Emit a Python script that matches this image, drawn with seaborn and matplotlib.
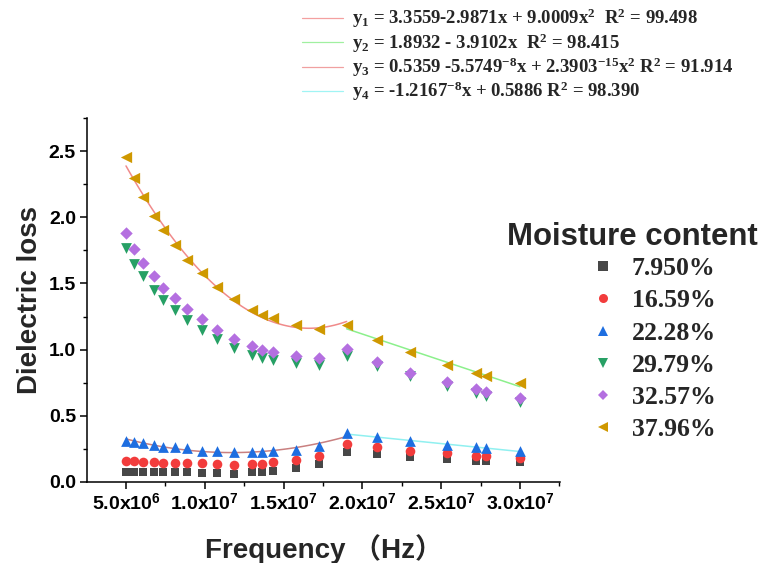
import numpy as np
import pandas as pd
import matplotlib
matplotlib.use("Agg")
import matplotlib.pyplot as plt
import seaborn as sns
from matplotlib.lines import Line2D
from matplotlib.ticker import MultipleLocator

# ---------------- data ----------------
freq = [5.0e6, 5.53e6, 6.1e6, 6.78e6, 7.37e6, 8.1e6, 8.9e6, 9.8e6, 10.75e6, 11.85e6,
        13.0e6, 13.6e6, 14.3e6, 15.77e6, 17.27e6, 19.0e6, 20.9e6, 23.0e6, 25.35e6,
        27.2e6, 27.85e6, 30.0e6]

mc_7950 = [0.073, 0.073, 0.073, 0.073, 0.073, 0.073, 0.073, 0.068, 0.068, 0.063,
           0.073, 0.073, 0.085, 0.103, 0.136, 0.229, 0.211, 0.191, 0.174, 0.161, 0.161, 0.149]
mc_1659 = [0.156, 0.156, 0.153, 0.149, 0.146, 0.141, 0.141, 0.141, 0.134, 0.128,
           0.134, 0.134, 0.149, 0.166, 0.199, 0.287, 0.262, 0.236, 0.217, 0.199, 0.199, 0.181]
mc_2228 = [0.312, 0.305, 0.295, 0.279, 0.267, 0.262, 0.254, 0.237, 0.232, 0.224,
           0.224, 0.224, 0.232, 0.244, 0.274, 0.370, 0.338, 0.307, 0.282, 0.262, 0.257, 0.236]
mc_2979 = [1.765, 1.646, 1.553, 1.452, 1.375, 1.301, 1.224, 1.150, 1.082, 1.012,
           0.959, 0.934, 0.924, 0.899, 0.886, 0.954, 0.874, 0.798, 0.723, 0.672, 0.652, 0.602]
mc_3257 = [1.881, 1.760, 1.654, 1.553, 1.465, 1.387, 1.307, 1.228, 1.150, 1.082,
           1.025, 0.999, 0.984, 0.954, 0.939, 1.002, 0.909, 0.826, 0.753, 0.702, 0.682, 0.634]
mc_3796 = [2.452, 2.294, 2.155, 2.011, 1.903, 1.790, 1.679, 1.576, 1.475, 1.380,
           1.299, 1.264, 1.236, 1.186, 1.158, 1.186, 1.075, 0.980, 0.886, 0.823, 0.803, 0.748]

series_labels = ["7.950%", "16.59%", "22.28%", "29.79%", "32.57%", "37.96%"]
series_values = [mc_7950, mc_1659, mc_2228, mc_2979, mc_3257, mc_3796]
series_colors = ["#474747", "#f23c3c", "#1e6ee0", "#27a065", "#b46fe0", "#cf9800"]
series_markers = ["s", "o", "^", "v", "D", "<"]
series_sizes = [40, 48, 60, 60, 40, 66]

fit_labels = [
    r"y$_1$ = 3.3559-2.9871x + 9.0009x$^2$  R$^2$ = 99.498",
    r"y$_2$ = 1.8932 - 3.9102x  R$^2$ = 98.415",
    r"y$_3$ = 0.5359 -5.5749$^{-8}$x + 2.3903$^{-15}$x$^2$ R$^2$ = 91.914",
    r"y$_4$ = -1.2167$^{-8}$x + 0.5886 R$^2$ = 98.390",
]
fit_colors = ["#f08a8a", "#8cf08c", "#c98080", "#90f0f0"]
legend_fit_colors = ["#f4a0a0", "#a0f0a0", "#f0a0a0", "#a0f4f4"]
split_index = 15  # index of 1.9e7 Hz where fits change

xticks = [5e6, 1e7, 1.5e7, 2e7, 2.5e7, 3e7]
xtick_labels = [r"5.0x10$^{\mathsf{6}}$", r"1.0x10$^{\mathsf{7}}$", r"1.5x10$^{\mathsf{7}}$",
                r"2.0x10$^{\mathsf{7}}$", r"2.5x10$^{\mathsf{7}}$", r"3.0x10$^{\mathsf{7}}$"]
yticks = [0.0, 0.5, 1.0, 1.5, 2.0, 2.5]

# ---------------- style ----------------
sns.set_theme(style="ticks")
plt.rcParams["font.family"] = ["Liberation Sans", "Noto Sans CJK SC", "DejaVu Sans"]
plt.rcParams["mathtext.fontset"] = "custom"
plt.rcParams["mathtext.rm"] = "Liberation Serif:bold"
plt.rcParams["mathtext.it"] = "Liberation Serif:bold"
plt.rcParams["mathtext.bf"] = "Liberation Serif:bold"
plt.rcParams["mathtext.sf"] = "Liberation Sans:bold"

fig = plt.figure(figsize=(7.61, 5.63), dpi=100)
ax = fig.add_axes([87 / 761, 1 - 482 / 563, (560 - 87) / 761, (482 - 118) / 563])

rows = []
for lab, vals in zip(series_labels, series_values):
    for f, v in zip(freq, vals):
        rows.append({"freq": f, "loss": v, "moisture": lab})
df = pd.DataFrame(rows)

for lab, col, mk, sz in zip(series_labels, series_colors, series_markers, series_sizes):
    sub = df[df["moisture"] == lab]
    sns.scatterplot(data=sub, x="freq", y="loss", color=col, marker=mk, s=sz,
                    linewidth=0, ax=ax, legend=False, zorder=3)

# fitted curves
gold = np.array(mc_3796)
blue = np.array(mc_2228)
fx = np.array(freq)
sns.regplot(x=fx[:split_index + 1], y=gold[:split_index + 1], order=2, ci=None, scatter=False,
            truncate=True, line_kws=dict(color=fit_colors[0], lw=1.1), ax=ax)
sns.regplot(x=fx[split_index:], y=gold[split_index:], order=1, ci=None, scatter=False,
            truncate=True, line_kws=dict(color=fit_colors[1], lw=1.1), ax=ax)
sns.regplot(x=fx[:split_index + 1], y=blue[:split_index + 1], order=2, ci=None, scatter=False,
            truncate=True, line_kws=dict(color=fit_colors[2], lw=1.1), ax=ax)
sns.regplot(x=fx[split_index:], y=blue[split_index:], order=1, ci=None, scatter=False,
            truncate=True, line_kws=dict(color=fit_colors[3], lw=1.1), ax=ax)

ax.set_xlim(2.525e6, 3.254e7)
ax.set_ylim(0, 2.75)
ax.set_xticks(xticks, xtick_labels)
ax.set_yticks(yticks, [f"{t:.1f}" for t in yticks])
ax.xaxis.set_minor_locator(MultipleLocator(2.5e6))
ax.yaxis.set_minor_locator(MultipleLocator(0.25))
ax.tick_params(which="major", direction="out", length=5, width=1.1, colors="black",
               labelsize=14, pad=3)
ax.tick_params(which="minor", direction="out", length=2.8, width=1.0, colors="black")
for t in ax.get_xticklabels() + ax.get_yticklabels():
    t.set_fontweight("bold")
sns.despine(ax=ax)
for sp in ["left", "bottom"]:
    ax.spines[sp].set_linewidth(1.1)
    ax.spines[sp].set_color("black")

ax.set_xlabel("Frequency （Hz）", fontsize=20, fontweight="bold", labelpad=14)
ax.set_ylabel("Dielectric loss", fontsize=20, fontweight="bold", labelpad=4)

# moisture legend
fig.text(507 / 761, 1 - 237 / 563, "Moisture content", ha="left", va="center",
         fontsize=22.4, fontweight="bold")
handles = [Line2D([], [], linestyle="none", marker=mk, color=col, markersize=6.5 if mk != "D" else 5.5,
                  markeredgewidth=0)
           for col, mk in zip(series_colors, series_markers)]
fig.legend(handles, series_labels, loc="upper left", bbox_to_anchor=(593 / 761, 1 - 257 / 563),
           frameon=False, borderpad=0, borderaxespad=0, handlelength=0.8, handletextpad=0.7,
           labelspacing=0.36,
           prop=dict(family="Liberation Serif", weight="bold", size=18.5))

# fit equation legend
fit_handles = [Line2D([], [], color=c, lw=0.9) for c in legend_fit_colors]
fig.legend(fit_handles, fit_labels, loc="upper left", bbox_to_anchor=(302 / 761, 1 - 7 / 563),
           frameon=False, borderpad=0, borderaxespad=0, handlelength=2.2, handletextpad=0.45,
           labelspacing=0.05,
           prop=dict(family="Liberation Serif", weight="bold", size=13.5))

fig.savefig("out.png", dpi=100)
